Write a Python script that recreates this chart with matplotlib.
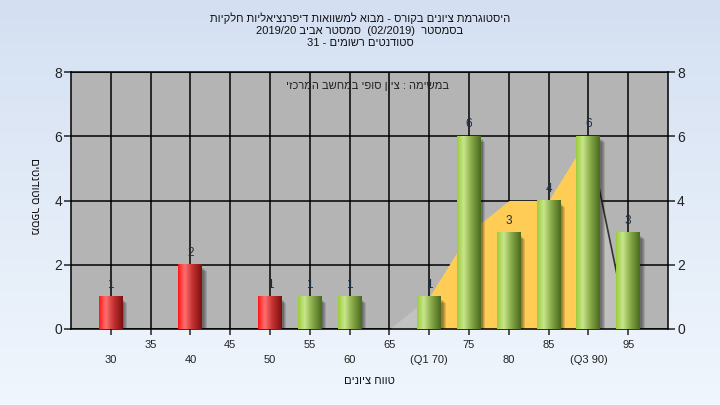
import re
import numpy as np
import matplotlib
matplotlib.use("Agg")
import matplotlib.pyplot as plt
from matplotlib.colors import to_rgb
from matplotlib.patches import Rectangle

plt.rcParams['font.family'] = ['Liberation Sans', 'DejaVu Sans']

# data
grades = [30, 40, 50, 55, 60, 70, 75, 80, 85, 90, 95]
counts = [1, 2, 1, 1, 1, 1, 6, 3, 4, 6, 3]
pass_grade = 55

trend_x = [65, 70, 75, 80, 85, 90, 95]
trend_y = [0, 1, 3, 4, 4, 6, 0]
q1, q3 = 70, 90

tick_pos = list(range(30, 100, 5))
tick_names = {70: "(Q1 70)", 90: "(Q3 90)"}

title_lines = [
    "היסטוגרמת ציונים בקורס - מבוא למשוואות דיפרנציאליות חלקיות",
    "בסמסטר  (02/2019)  סמסטר אביב 2019/20",
    "סטודנטים רשומים - 31",
]
note = "במשימה : ציון סופי במחשב המרכזי"
xlabel = "טווח ציונים"
ylabel = "מספר סטודנטים"


def vis(s):
    # the reference shows the characters strictly left to right; the text
    # engine here reorders Hebrew, so hand it the string pre-reversed
    r = s[::-1]
    r = re.sub(r'[0-9/]+', lambda m: m.group(0)[::-1], r)
    return r.translate(str.maketrans("()", ")("))


def shade(stops, n=64):
    # stops: list of (position, colour) across the bar width
    pos = [p for p, _ in stops]
    cols = np.array([to_rgb(c) for _, c in stops])
    t = np.linspace(0, 1, n)
    out = np.stack([np.interp(t, pos, cols[:, i]) for i in range(3)], axis=1)
    return out[np.newaxis, :, :]


red_grad = shade([(0, "#ff1818"), (0.28, "#ff7070"), (0.6, "#c83232"), (1, "#7c1010")])
green_grad = shade([(0, "#9ccc3c"), (0.28, "#c8e68c"), (0.6, "#88aa48"), (1, "#4a6a1e")])

fig = plt.figure(figsize=(7.2, 4.05), dpi=100)

# light blue page background
bg = fig.add_axes([0, 0, 1, 1], zorder=-10)
bg.imshow(shade([(0, "#d4e0f2"), (1, "#f0f6fd")]).transpose(1, 0, 2),
          aspect='auto', extent=(0, 1, 0, 1), origin='upper')
bg.set_axis_off()

ax = fig.add_axes([71 / 720, 1 - 329 / 405, 597 / 720, 257 / 405])
ax.set_facecolor("#b4b4b4")
ax.set_axisbelow(True)
ax.grid(True, color="black", lw=1.1)

# trend area: grey outside Q1..Q3, yellow inside
tx = np.array(trend_x, dtype=float)
ty = np.array(trend_y, dtype=float)
ax.fill_between(tx, ty, where=tx <= q1, color="#c2c2c2", lw=0, zorder=1)
ax.fill_between(tx, ty, where=(tx >= q1) & (tx <= q3), color="#ffcc55", lw=0, zorder=1)
ax.fill_between(tx, ty, where=tx >= q3, color="#bfbfbf", lw=0, zorder=1)
ax.plot(tx[tx >= q3], ty[tx >= q3], color="#333333", lw=1.2, zorder=1.5)

w = 3.0
for g, c in zip(grades, counts):
    x0 = g - w / 2
    for k in range(4):
        ax.add_patch(Rectangle((x0 + 0.2 + k * 0.12, -0.1 - k * 0.03), w, c,
                               color="black", alpha=0.12, lw=0, zorder=2))
    grad = red_grad if g < pass_grade else green_grad
    ax.imshow(grad, extent=(x0, x0 + w, 0, c), aspect='auto', zorder=3)
    ax.text(g, c + 0.37, str(c), ha='center', va='center', fontsize=8.5,
            color="#1c2c48", zorder=4)

ax.set_xlim(25, 100)
ax.set_ylim(0, 8)
ax.set_yticks(range(0, 9, 2))
ax.set_xticks(tick_pos)
labels = []
for v in tick_pos:
    if v % 10 == 5:
        labels.append(str(v))
    else:
        labels.append("\n" + tick_names.get(v, str(v)))
ax.set_xticklabels(labels)
for t in ax.get_xticklabels():
    t.set_linespacing(1.55)

ax.tick_params(axis='y', left=True, right=True, labelleft=True, labelright=True,
               direction='out', length=5, width=1.1, pad=1.5, labelsize=10,
               colors="#222222")
ax.tick_params(axis='x', direction='out', length=4, width=1.1, pad=4,
               labelsize=8, colors="#222222")
for s in ax.spines.values():
    s.set_color("black")
    s.set_linewidth(1.1)

ax.text(0.497, 0.945, vis(note), transform=ax.transAxes, ha='center',
        va='center', fontsize=8, color="#222222")

for i, line in enumerate(title_lines):
    fig.text(0.5, 1 - (18 + i * 12.5) / 405, vis(line), ha='center',
             va='center', fontsize=8, color="#111111")

fig.text(369 / 720, 1 - 381 / 405, vis(xlabel), ha='center', va='center',
         fontsize=8, color="#111111")
fig.text(34 / 720, 1 - 196 / 405, vis(ylabel), ha='center', va='center',
         rotation=270, fontsize=8, color="#111111")

fig.savefig("out.png", dpi=100)
